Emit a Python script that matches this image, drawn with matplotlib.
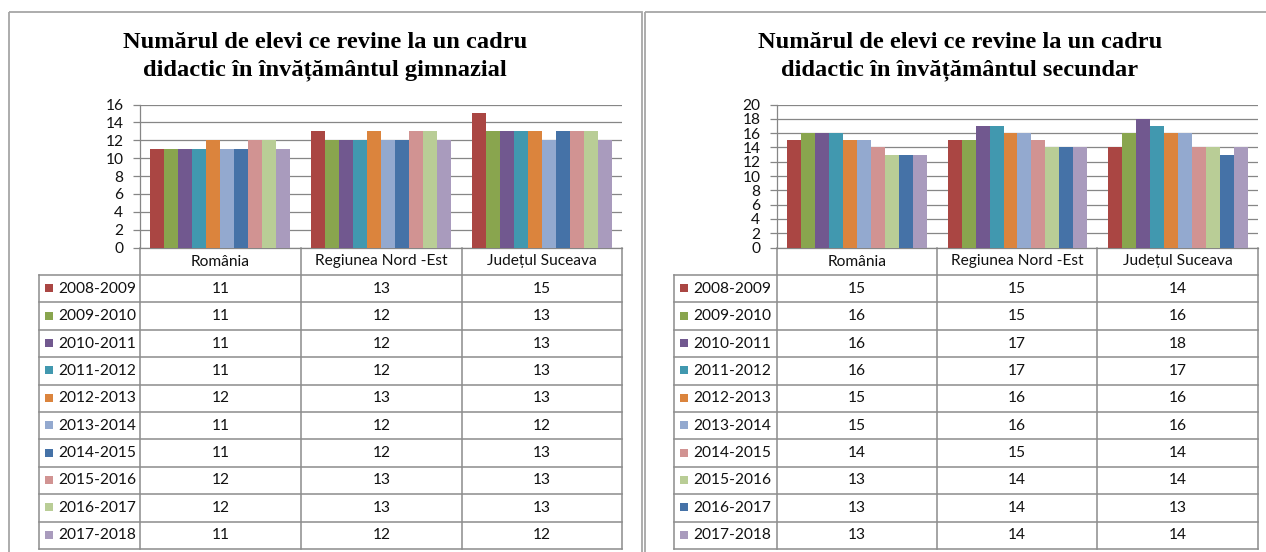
import numpy as np
import matplotlib
matplotlib.use("Agg")
import matplotlib.pyplot as plt
from matplotlib.patches import Rectangle
from matplotlib.lines import Line2D

# ---------------- data ----------------
categories = ["România", "Regiunea Nord -Est", "Județul Suceava"]
years = ["2008-2009", "2009-2010", "2010-2011", "2011-2012", "2012-2013",
         "2013-2014", "2014-2015", "2015-2016", "2016-2017", "2017-2018"]

title_gimn = ["Numărul de elevi ce revine la un cadru",
              "didactic în învățământul gimnazial"]
title_sec = ["Numărul de elevi ce revine la un cadru",
             "didactic în învățământul secundar"]

# rows = school years, columns = România, Regiunea Nord-Est, Județul Suceava
gimn_values = [
    [11, 13, 15],
    [11, 12, 13],
    [11, 12, 13],
    [11, 12, 13],
    [12, 13, 13],
    [11, 12, 12],
    [11, 12, 13],
    [12, 13, 13],
    [12, 13, 13],
    [11, 12, 12],
]
sec_values = [
    [15, 15, 14],
    [16, 15, 16],
    [16, 17, 18],
    [16, 17, 17],
    [15, 16, 16],
    [15, 16, 16],
    [14, 15, 14],
    [13, 14, 14],
    [13, 14, 13],
    [13, 14, 14],
]
gimn_yticks = list(range(0, 17, 2))
sec_yticks = list(range(0, 21, 2))

# ---------------- style ----------------
RED, GREEN, PURPLE, TEAL, ORANGE = "#AA4643", "#89A54E", "#71588F", "#4198AF", "#DB843D"
LBLUE, DBLUE, PINK, LGREEN, LAV = "#93A9CF", "#4572A7", "#D19392", "#B9CD96", "#A99BBD"
gimn_colors = [RED, GREEN, PURPLE, TEAL, ORANGE, LBLUE, DBLUE, PINK, LGREEN, LAV]
sec_colors = [RED, GREEN, PURPLE, TEAL, ORANGE, LBLUE, PINK, LGREEN, DBLUE, LAV]

W, H = 1266, 552
DPI = 100
SANS = ["Lato", "DejaVu Sans"]
SERIF = ["Liberation Serif", "DejaVu Serif"]
GRID = "#868686"
LINE = "#8C8C8C"
FRAME = "#A6A6A6"
TXT = "#111111"
FS = 11.2

fig = plt.figure(figsize=(W / DPI, H / DPI), dpi=DPI)
fig.patch.set_facecolor("white")

ov = fig.add_axes([0, 0, 1, 1], zorder=0)
ov.set_xlim(0, W)
ov.set_ylim(H, 0)
ov.axis("off")


def hline(x0, x1, y, **kw):
    ov.add_line(Line2D([x0, x1], [y, y], **kw))


def vline(x, y0, y1, **kw):
    ov.add_line(Line2D([x, x], [y0, y1], **kw))


def draw_chart(frame_x0, frame_x1, title, title_cx, values, colors, yticks,
               tab_left, cols, plot_top, plot_bot, label_pad):
    # outer frame
    ov.add_patch(Rectangle((frame_x0, 12), frame_x1 - frame_x0, H + 20,
                           fill=False, edgecolor=FRAME, lw=1.3))
    # title
    ov.text(title_cx, 42, title[0], ha="center", va="center", fontsize=17.6,
            fontweight="bold", family=SERIF, color="black")
    ov.text(title_cx, 70, title[1], ha="center", va="center", fontsize=17.6,
            fontweight="bold", family=SERIF, color="black")

    # plot axes
    ax = fig.add_axes([cols[0] / W, 1 - plot_bot / H,
                       (cols[-1] - cols[0]) / W, (plot_bot - plot_top) / H],
                      zorder=2)
    ax.set_facecolor("none")
    vals = np.array(values, dtype=float)
    nser = vals.shape[0]
    x = np.arange(len(categories))
    group = 0.87
    bw = group / nser
    for j in range(nser):
        ax.bar(x + (j - (nser - 1) / 2) * bw, vals[j], width=bw,
               color=colors[j], edgecolor="none", zorder=3)
    ax.set_xlim(-0.5, len(categories) - 0.5)
    ax.set_ylim(yticks[0], yticks[-1])
    ax.set_yticks(yticks)
    ax.set_yticklabels([str(t) for t in yticks], family=SANS, fontsize=FS,
                       color=TXT)
    ax.yaxis.grid(True, color=GRID, lw=0.9)
    ax.set_axisbelow(True)
    ax.set_xticks([])
    for s in ["top", "right"]:
        ax.spines[s].set_visible(False)
    for s in ["left", "bottom"]:
        ax.spines[s].set_color(GRID)
        ax.spines[s].set_linewidth(0.9)
    ax.tick_params(axis="y", direction="out", length=5, width=0.9,
                   color=GRID, pad=label_pad)

    # category row + table
    row_top = 275
    row_h = 27.4
    nrows = len(years)
    tab_bot = row_top + nrows * row_h
    kw = dict(color=LINE, lw=1.1)
    for c in cols:
        vline(c, plot_bot, tab_bot, **kw)
    vline(tab_left, row_top, tab_bot, **kw)
    for i in range(nrows + 1):
        hline(tab_left, cols[-1], row_top + i * row_h, **kw)
    for k, cat in enumerate(categories):
        ov.text((cols[k] + cols[k + 1]) / 2, 261.5, cat, ha="center",
                va="center", fontsize=FS, family=SANS, color=TXT)
    for i, yr in enumerate(years):
        yc = row_top + (i + 0.5) * row_h
        ov.add_patch(Rectangle((tab_left + 6, yc - 4.5), 8, 8,
                               facecolor=colors[i], edgecolor="none"))
        ov.text(tab_left + 19, yc, yr, ha="left", va="center", fontsize=FS,
                family=SANS, color=TXT)
        for k in range(len(categories)):
            ov.text((cols[k] + cols[k + 1]) / 2, yc, str(values[i][k]),
                    ha="center", va="center", fontsize=FS, family=SANS,
                    color=TXT)


draw_chart(9, 641.5, title_gimn, 325, gimn_values, gimn_colors, gimn_yticks,
           39, [140, 301, 462, 622], 104.5, 247.5, 7)
draw_chart(644.5, 1275, title_sec, 960, sec_values, sec_colors, sec_yticks,
           674, [777, 937, 1097, 1258], 104.5, 247.5, 7)

fig.savefig("out.png", dpi=DPI, facecolor="white")
